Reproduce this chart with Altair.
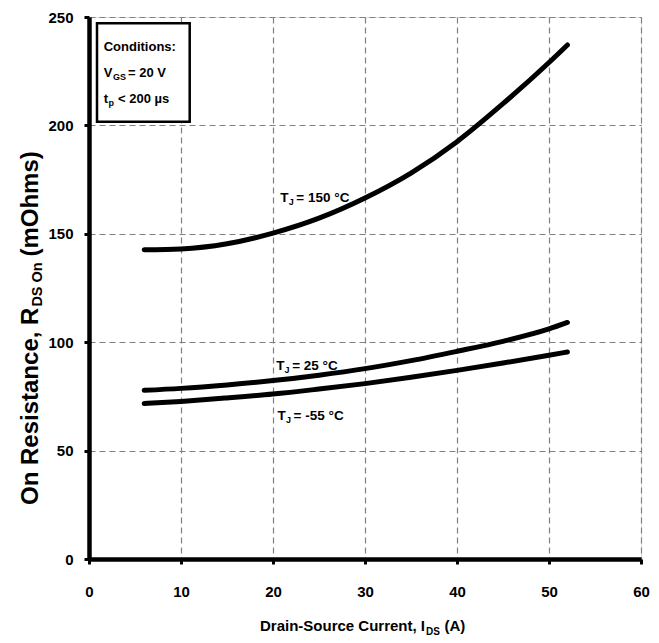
import altair as alt
import pandas as pd

# ---- data ----
current_a = [6, 10, 15, 20, 25, 30, 35, 40, 45, 50, 52]
rds_150 = [142.6, 143.0, 145.4, 150.3, 157.2, 166.5, 178.0, 192.5, 210.0, 229.0, 237.1]
rds_25 = [77.8, 78.7, 80.3, 82.3, 84.8, 87.8, 91.5, 95.8, 100.4, 106.1, 109.1]
rds_m55 = [71.7, 72.7, 74.3, 76.1, 78.4, 80.9, 83.8, 87.0, 90.4, 94.0, 95.5]
series_names = ["150", "25", "-55"]

label_rest = ["= 150 °C", "= 25 °C", "= -55 °C"]
label_x = [20.8, 20.35, 20.5]
label_y = [164.7, 87.3, 64.3]

x_ticks = [0, 10, 20, 30, 40, 50, 60]
y_ticks = [0, 50, 100, 150, 200, 250]

FONT = "Liberation Sans, Arial, sans-serif"

rows = []
for name, vals in zip(series_names, [rds_150, rds_25, rds_m55]):
    for i, r in zip(current_a, vals):
        rows.append({"I": i, "R": r, "T": name})
curves = pd.DataFrame(rows)
labels = pd.DataFrame({"I": label_x, "R": label_y, "rest": label_rest})
one = pd.DataFrame({"a": [0]})

xs = alt.Scale(domain=[0, 60], nice=False)
ys = alt.Scale(domain=[0, 250], nice=False)

axis_common = dict(
    grid=True, gridDash=[6, 4], gridColor="#808080", gridWidth=1.2,
    domainColor="black", domainWidth=4.5, ticks=True, tickColor="black",
    tickWidth=3, tickSize=5, labelFont=FONT, labelFontSize=15,
    labelFontWeight="bold", labelColor="black", title=None,
    labelFlush=False, labelOverlap=False,
)
x_axis = alt.Axis(values=x_ticks, labelPadding=20, **axis_common)
y_axis = alt.Axis(values=y_ticks, labelPadding=11, **axis_common)

enc = dict(x=alt.X("I:Q", scale=xs, axis=x_axis), y=alt.Y("R:Q", scale=ys, axis=y_axis))

lines = alt.Chart(curves).mark_line(
    color="black", strokeWidth=5, interpolate="monotone", strokeCap="round"
).encode(detail="T:N", **enc)

lab_style = dict(align="left", baseline="alphabetic", font=FONT, fontWeight="bold", color="black")
lab_T = alt.Chart(labels).mark_text(text="T", fontSize=13.5, **lab_style).encode(**enc)
lab_J = alt.Chart(labels).mark_text(text="J", fontSize=9, dx=8.3, dy=3, **lab_style).encode(**enc)
lab_rest = alt.Chart(labels).mark_text(fontSize=13.5, dx=16, **lab_style).encode(text="rest:N", **enc)


def txt(s, x, y, size, align="left", angle=0, dx=0, dy=0):
    kw = dict(text=s, fontSize=size, font=FONT, fontWeight="bold", color="black",
              align=align, baseline="alphabetic", dx=dx, dy=dy)
    if angle:
        kw["angle"] = angle
    return alt.Chart(one).mark_text(**kw).encode(x=alt.value(x), y=alt.value(y))


box = alt.Chart(one).mark_rect(fill="white", stroke="black", strokeWidth=2.5).encode(
    x=alt.value(8), x2=alt.value(100.7), y=alt.value(6.3), y2=alt.value(104.7)
)

box_text = [
    txt("Conditions:", 14.7, 33.7, 13),
    txt("V", 14.7, 60.3, 13),
    txt("GS", 24, 63.3, 9),
    txt("= 20 V", 39, 60.3, 13),
    txt("t", 14.7, 86.3, 13),
    txt("p", 19.5, 89.3, 9),
    txt("< 200 µs", 29, 86.3, 13),
]

x_title = [
    txt("Drain-Source Current, I", 336, 614, 15, align="right"),
    txt("DS", 337, 617.5, 10),
    txt("(A)", 355.5, 614, 15),
]

y_title = [
    txt("On Resistance, R", -51, 290.6, 24, align="right", angle=270),
    txt("DS On", -51, 290.6, 14.5, angle=270, dx=1, dy=4),
    txt("(mOhms)", -51, 290.6, 24, angle=270, dx=51),
]

chart = alt.layer(
    lines, lab_T, lab_J, lab_rest, box, *box_text, *x_title, *y_title
).properties(
    width=552, height=542,
    autosize=alt.AutoSizeParams(type="none"),
    padding={"left": 81, "top": 9, "right": 10, "bottom": 76},
).configure_view(stroke=None).configure(background="white")

chart.save("out.html", embed_options={"renderer": "svg", "actions": False})
